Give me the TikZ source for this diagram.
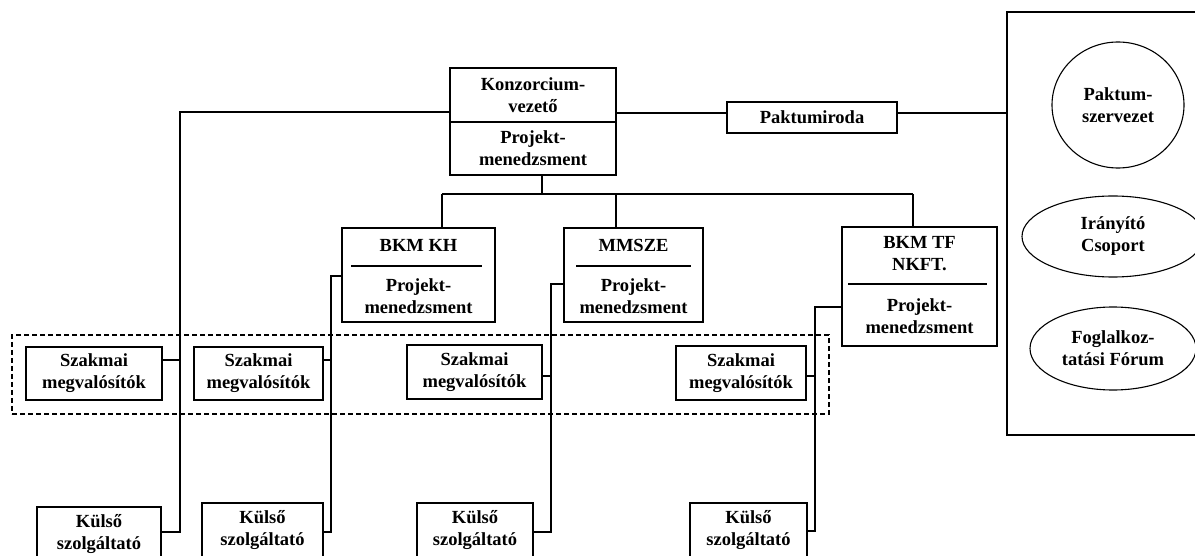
\documentclass[tikz,border=0pt]{standalone}
\usepackage{fontspec}
\setmainfont{Liberation Serif}
\usetikzlibrary{shapes.geometric}
\newcommand\myfs{\fontsize{18.5}{22}\selectfont\bfseries}
\begin{document}
\begin{tikzpicture}[x=1pt,y=-1pt, line width=1.1pt,
  box/.style={draw, line width=1.1pt, inner sep=0pt, align=center, font=\myfs},
  frame/.style={draw, line width=1.1pt, inner sep=0pt},
  txt/.style={inner sep=0pt, align=center, font=\myfs},
  oval/.style={draw, ellipse, line width=1.1pt, inner sep=0pt, align=center, font=\myfs},
  grp/.style={draw, dashed, dash pattern=on 5pt off 3pt, line width=1.1pt}]
\useasboundingbox (0,0) rectangle (1195,556);
\clip (0,0) rectangle (1195,556);
% top
\node[box, minimum width=166pt, minimum height=54pt] (kon1) at (533,95) {Konzorcium-\\vezető};
\node[box, minimum width=166pt, minimum height=53pt] (kon2) at (533,148.5) {Projekt-\\menedzsment};
\node[box, minimum width=170pt, minimum height=31pt] (pak) at (812,117.5) {Paktumiroda};
% right panel
\node[frame, minimum width=208pt, minimum height=423pt] (panel) at (1111,223.5) {};
\node[oval, minimum width=132pt, minimum height=126pt] (psz) at (1118,105) {Paktum-\\szervezet};
\node[oval, minimum width=182pt, minimum height=81pt] (iry) at (1113,236.5) {Irányító\\Csoport};
\node[oval, minimum width=166pt, minimum height=83pt] (fog) at (1113,348.5) {Foglalkoz-\\tatási Fórum};
% members
\node[frame, minimum width=153pt, minimum height=94pt] (bkh) at (418.5,275) {};
\node[txt] (bkht) at (418.5,245) {BKM KH};
\node[txt] (bkhp) at (418.5,296) {Projekt-\\menedzsment};
\node[frame, minimum width=139pt, minimum height=94pt] (mms) at (633.5,275) {};
\node[txt] (mmst) at (633.5,245) {MMSZE};
\node[txt] (mmsp) at (633.5,296) {Projekt-\\menedzsment};
\node[frame, minimum width=155pt, minimum height=119pt] (btf) at (919.5,286.5) {};
\node[txt] (btft) at (919.5,254) {BKM TF\\NKFT.};
\node[txt] (btfp) at (919.5,316) {Projekt-\\menedzsment};
\draw (351,266) -- (482,266);
\draw (576,266) -- (691,266);
\draw (848,284) -- (987,284);
% dashed group
\node[grp, minimum width=817pt, minimum height=79pt, inner sep=0pt] (grp) at (420.5,374.5) {};
% Szakmai
\node[box, minimum width=136pt, minimum height=53pt] (sz1) at (94,373.5) {Szakmai\\megvalósítók};
\node[box, minimum width=129pt, minimum height=53pt] (sz2) at (258.5,373.5) {Szakmai\\megvalósítók};
\node[box, minimum width=135pt, minimum height=54pt] (sz3) at (474.5,372) {Szakmai\\megvalósítók};
\node[box, minimum width=130pt, minimum height=54pt] (sz4) at (741,373) {Szakmai\\megvalósítók};
% Kulso
\node[box, minimum width=124pt, minimum height=54pt] (ku1) at (99,534) {Külső\\szolgáltató};
\node[box, minimum width=121pt, minimum height=54pt] (ku2) at (262.5,530) {Külső\\szolgáltató};
\node[box, minimum width=116pt, minimum height=54pt] (ku3) at (475,530) {Külső\\szolgáltató};
\node[box, minimum width=117pt, minimum height=54pt] (ku4) at (748.5,530) {Külső\\szolgáltató};
% connectors top
\coordinate (kp) at (0,113);
\draw (kon1.east |- kp) -- (pak.west |- kp);
\draw (pak.east |- kp) -- (panel.west |- kp);
% tree
\coordinate (t0) at (542,194);
\coordinate (tA) at (442,194);
\coordinate (tB) at (616,194);
\coordinate (tC) at (913,194);
\draw (kon2.south -| t0) -- (t0);
\draw (tA) -- (tC);
\draw (tA) -- (bkh.north -| tA);
\draw (tB) -- (mms.north -| tB);
\draw (tC) -- (btf.north -| tC);
% column 1
\coordinate (a1) at (180,112);
\coordinate (a2) at (180,532);
\coordinate (a3) at (180,360);
\draw (kon1.west |- a1) -- (a1) -- (a2) -- (ku1.east |- a2);
\draw (sz1.east |- a3) -- (a3);
% column 2
\coordinate (b1) at (331,276);
\coordinate (b2) at (331,532);
\coordinate (b3) at (331,360);
\draw (bkh.west |- b1) -- (b1) -- (b2) -- (ku2.east |- b2);
\draw (sz2.east |- b3) -- (b3);
% column 3
\coordinate (c1) at (551,284);
\coordinate (c2) at (551,532);
\coordinate (c3) at (551,376);
\draw (mms.west |- c1) -- (c1) -- (c2) -- (ku3.east |- c2);
\draw (sz3.east |- c3) -- (c3);
% column 4
\coordinate (d1) at (815,307);
\coordinate (d2) at (815,531);
\coordinate (d3) at (815,376);
\draw (btf.west |- d1) -- (d1) -- (d2) -- (ku4.east |- d2);
\draw (sz4.east |- d3) -- (d3);
\end{tikzpicture}
\end{document}
